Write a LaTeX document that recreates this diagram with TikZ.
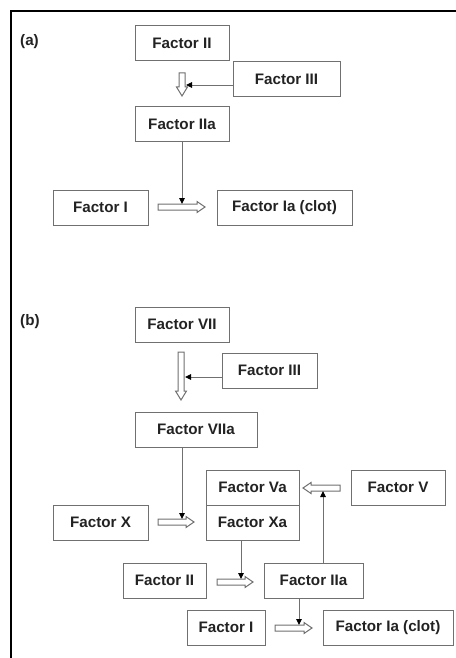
\documentclass[tikz,border=0pt]{standalone}
\usepackage{fontspec}
\setmainfont{Liberation Sans}
\usetikzlibrary{arrows.meta}
\definecolor{boxline}{HTML}{707070}
\definecolor{txt}{HTML}{222222}
\newcommand\hollowR[3]{\draw[hollow] (#1,#3-3) -- (#2-8,#3-3) -- (#2-8,#3-5.5) -- (#2,#3) -- (#2-8,#3+5.5) -- (#2-8,#3+3) -- (#1,#3+3) -- cycle;}
\newcommand\hollowL[3]{\draw[hollow] (#2,#3-3) -- (#1+8,#3-3) -- (#1+8,#3-5.5) -- (#1,#3) -- (#1+8,#3+5.5) -- (#1+8,#3+3) -- (#2,#3+3) -- cycle;}
\newcommand\hollowD[3]{\draw[hollow] (#1-3,#2) -- (#1-3,#3-9) -- (#1-5.5,#3-9) -- (#1,#3) -- (#1+5.5,#3-9) -- (#1+3,#3-9) -- (#1+3,#2) -- cycle;}
\begin{document}
\begin{tikzpicture}[x=1pt,y=-1pt,
  fbox/.style={draw=boxline, line width=1pt, minimum height=35pt, inner sep=0pt,
    font=\fontsize{15.2}{17}\selectfont\bfseries, text=txt},
  lbl/.style={font=\fontsize{15.2}{17}\selectfont\bfseries, text=txt, anchor=west, inner sep=0pt},
  hollow/.style={draw=boxline, line width=1pt, fill=white},
  conn/.style={draw=boxline, line width=0.9pt, -{Triangle[length=6pt,width=5.5pt,color=black]}}]
\useasboundingbox (0,0) rectangle (455,658);
% frame
\draw[line width=1.7pt, black] (456,11) -- (11,11) -- (11,659);
% ---------- (a)
\node[lbl] (la) at (20,42) {(a)};
\node[fbox, minimum width=94pt] (a2) at (182,43.5) {Factor II};
\node[fbox, minimum width=107pt] (a3) at (286.5,79) {Factor III};
\node[fbox, minimum width=94pt] (a2a) at (182,124) {Factor IIa};
\node[fbox, minimum width=95pt] (a1) at (100.5,207.5) {Factor I};
\node[fbox, minimum width=135pt] (a1a) at (284.5,207.5) {Factor Ia (clot)};
\hollowD{182}{73}{96}
\hollowR{158}{205}{207}
\coordinate (pa1) at (186,85);
\coordinate (pa2) at (182,204);
\draw[conn] (a3.west |- pa1) -- (pa1);
\draw[conn] (a2a.south -| pa2) -- (pa2);
% ---------- (b)
\node[lbl] (lb) at (20,322) {(b)};
\node[fbox, minimum width=94pt] (b7) at (182,324.5) {Factor VII};
\node[fbox, minimum width=95pt] (b3) at (269.5,370.5) {Factor III};
\node[fbox, minimum width=122pt] (b7a) at (196,429.5) {Factor VIIa};
\node[fbox, minimum width=93pt] (b5a) at (252.5,487.5) {Factor Va};
\node[fbox, minimum width=93pt] (b10a) at (252.5,522.5) {Factor Xa};
\node[fbox, minimum width=94pt] (b5) at (398,487.5) {Factor V};
\node[fbox, minimum width=95pt] (b10) at (100.5,522.5) {Factor X};
\node[fbox, minimum width=83pt] (b2) at (164.5,580.5) {Factor II};
\node[fbox, minimum width=99pt] (b2a) at (313.5,580.5) {Factor IIa};
\node[fbox, minimum width=78pt] (b1) at (226,627.5) {Factor I};
\node[fbox, minimum width=130pt] (b1a) at (388,627.5) {Factor Ia (clot)};
\hollowD{181}{352}{400}
\hollowR{158}{194}{522}
\hollowL{303}{340}{488}
\hollowR{217}{253}{582}
\hollowR{275}{312}{628}
\coordinate (pb1) at (185,377);
\coordinate (pb2) at (182,519);
\coordinate (pb3) at (241,579);
\coordinate (pb4) at (323,491);
\coordinate (pb5) at (299,625);
\draw[conn] (b3.west |- pb1) -- (pb1);
\draw[conn] (b7a.south -| pb2) -- (pb2);
\draw[conn] (b10a.south -| pb3) -- (pb3);
\draw[conn] (b2a.north -| pb4) -- (pb4);
\draw[conn] (b2a.south -| pb5) -- (pb5);
\end{tikzpicture}
\end{document}
